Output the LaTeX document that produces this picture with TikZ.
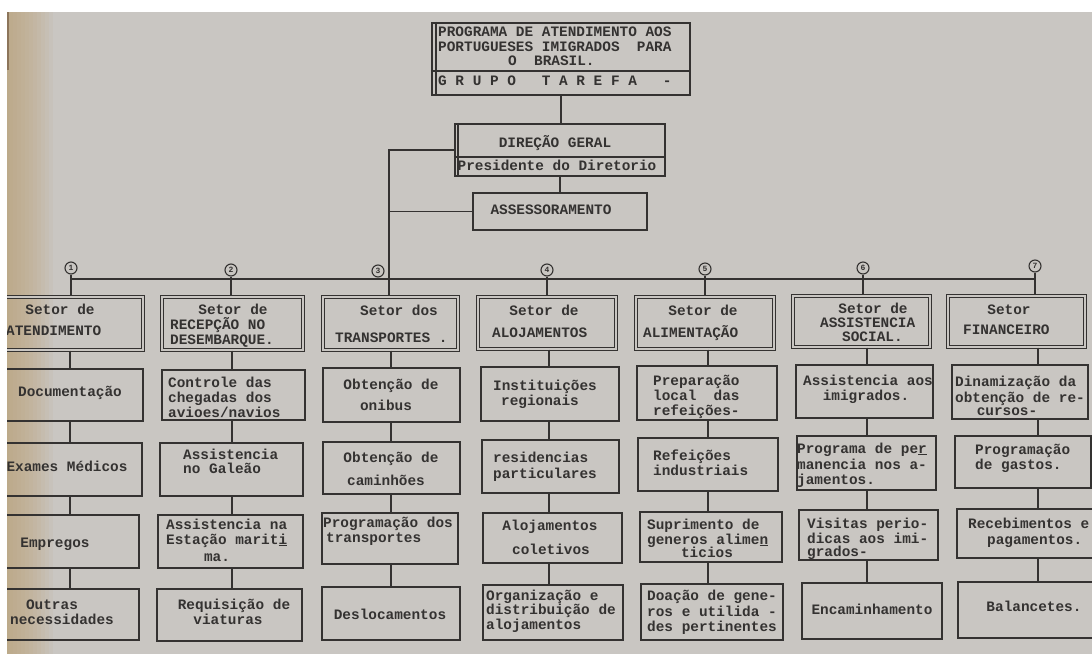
\documentclass[tikz,border=0pt]{standalone}
\usepackage{fontspec}
\setmonofont{Liberation Mono}
\usetikzlibrary{fit}
\definecolor{paper}{RGB}{201,198,194}
\definecolor{ink}{RGB}{52,50,49}
\definecolor{stain}{RGB}{188,162,118}
\definecolor{edge}{RGB}{120,95,70}
\begin{document}
\begin{tikzpicture}[x=1pt,y=-1pt,
  every node/.style={font=\ttfamily\bfseries\fontsize{14.4}{15}\selectfont, text=ink, inner sep=0pt},
  bx/.style={draw=ink, line width=2.2pt, inner sep=0pt},
  hb/.style={draw=ink, double=paper, double distance=2.2pt, line width=1.1pt, inner sep=0pt},
  tl/.style={anchor=mid west},
  tc/.style={anchor=mid},
  conn/.style={draw=ink, line width=1.9pt},
  num/.style={circle, draw=ink, line width=1.1pt, minimum size=12pt, inner sep=0pt, font=\ttfamily\bfseries\fontsize{8}{8}\selectfont}
]
\useasboundingbox (0,0) rectangle (1092,654);
\fill[white] (0,0) rectangle (1092,654);
\fill[paper] (7,12) rectangle (1092,654);
\foreach \i in {0,...,11}{
  \fill[stain, opacity=0.09] (7,12) rectangle ({9+4*\i},654);
}
\fill[edge, opacity=0.7] (7,12) rectangle (9,70);

\begin{scope}
\clip (7,12) rectangle (1092,654);

% ---------- top ----------
\node[bx, fit={(432,23) (690,95)}] (top) {};
\coordinate (tdiv) at (0,71);
\draw[ink, line width=1.4pt] ([xshift=5pt]top.north west) -- ([xshift=5pt]top.south west);
\draw[ink, line width=1.8pt] (top.west |- tdiv) -- (top.east |- tdiv);
\node[tl] (t1) at (438,34) {PROGRAMA DE ATENDIMENTO AOS};
\node[tl] (t2) at (438,49) {PORTUGUESES IMIGRADOS~~PARA};
\node[tl] (t3) at (508,63) {O~~BRASIL.};
\node[tl] (t4) at (438,83) {G~R~U~P~O~~~T~A~R~E~F~A~~~-};

\node[bx, fit={(455,124) (665,176)}] (dir) {};
\coordinate (ddiv) at (0,157);
\draw[ink, line width=1.4pt] ([xshift=4pt]dir.north west) -- ([xshift=4pt]dir.south west);
\draw[ink, line width=1.8pt] (dir.west |- ddiv) -- (dir.east |- ddiv);
\node[tc] (d1) at (555,145) {DIREÇÃO GERAL};
\node[tc] (d2) at (557,168) {Presidente do Diretorio};

\node[bx, fit={(473,193) (647,230)}] (ass) {};
\node[tc] (a1) at (551,212) {ASSESSORAMENTO};

\draw[conn] (top.south) -- (top.south |- dir.north);
\draw[conn] (dir.south) -- (dir.south |- ass.north);

% ---------- headers ----------
\node[hb, fit={(-5,297) (143,350)}] (h1) {};
\node[hb, fit={(162,297) (303,350)}] (h2) {};
\node[hb, fit={(323,297) (458,350)}] (h3) {};
\node[hb, fit={(478,297) (616,349)}] (h4) {};
\node[hb, fit={(636,297) (774,349)}] (h5) {};
\node[hb, fit={(793,296) (930,347)}] (h6) {};
\node[hb, fit={(948,296) (1085,347)}] (h7) {};

\node[tc] (h1a) at (60,312) {Setor de};
\node[tl] (h1b) at (6,333) {ATENDIMENTO};
\node[tc] (h2a) at (233,312) {Setor de};
\node[tl] (h2b) at (170,327) {RECEPÇÃO NO};
\node[tl] (h2c) at (170,342) {DESEMBARQUE.};
\node[tc] (h3a) at (399,313) {Setor dos};
\node[tl] (h3b) at (335,340) {TRANSPORTES .};
\node[tc] (h4a) at (544,313) {Setor de};
\node[tl] (h4b) at (492,335) {ALOJAMENTOS};
\node[tc] (h5a) at (703,313) {Setor de};
\node[tl] (h5b) at (643,335) {ALIMENTAÇÃO};
\node[tc] (h6a) at (873,311) {Setor de};
\node[tl] (h6b) at (820,325) {ASSISTENCIA};
\node[tl] (h6c) at (842,339) {SOCIAL.};
\node[tc] (h7a) at (1009,312) {Setor};
\node[tl] (h7b) at (963,332) {FINANCEIRO};

% ---------- numbers and bus ----------
\node[num] (n1) at (71,268) {1};
\node[num] (n2) at (231,270) {2};
\node[num] (n3) at (378,271) {3};
\node[num] (n4) at (547,270) {4};
\node[num] (n5) at (705,269) {5};
\node[num] (n6) at (863,268) {6};
\node[num] (n7) at (1035,266) {7};
\coordinate (busy) at (0,279);
\coordinate (tr) at (389,279);
\draw[conn] (n1 |- busy) -- (n7 |- busy);
\foreach \c in {1,2,4,5,6,7}{
  \draw[conn] (n\c) -- (n\c |- h\c.north);
}
\draw[conn] (dir.west) -| (tr) -- (tr |- h3.north);
\draw[conn] (ass.west) -- (ass.west -| tr);

% ---------- column boxes ----------
\node[bx, fit={(-5,369) (143,421)}] (b1-1) {};
\node[bx, fit={(-5,443) (142,496)}] (b1-2) {};
\node[bx, fit={(-5,515) (139,568)}] (b1-3) {};
\node[bx, fit={(-5,589) (139,640)}] (b1-4) {};
\node[bx, fit={(162,370) (305,420)}] (b2-1) {};
\node[bx, fit={(160,443) (303,496)}] (b2-2) {};
\node[bx, fit={(158,515) (303,568)}] (b2-3) {};
\node[bx, fit={(157,589) (302,641)}] (b2-4) {};
\node[bx, fit={(323,368) (460,422)}] (b3-1) {};
\node[bx, fit={(323,442) (460,494)}] (b3-2) {};
\node[bx, fit={(322,513) (458,564)}] (b3-3) {};
\node[bx, fit={(322,587) (460,640)}] (b3-4) {};
\node[bx, fit={(481,367) (619,421)}] (b4-1) {};
\node[bx, fit={(482,440) (619,493)}] (b4-2) {};
\node[bx, fit={(483,513) (622,563)}] (b4-3) {};
\node[bx, fit={(483,585) (623,640)}] (b4-4) {};
\node[bx, fit={(637,366) (777,420)}] (b5-1) {};
\node[bx, fit={(638,438) (778,491)}] (b5-2) {};
\node[bx, fit={(640,512) (782,562)}] (b5-3) {};
\node[bx, fit={(641,584) (783,640)}] (b5-4) {};
\node[bx, fit={(796,365) (933,418)}] (b6-1) {};
\node[bx, fit={(797,436) (936,490)}] (b6-2) {};
\node[bx, fit={(799,510) (938,560)}] (b6-3) {};
\node[bx, fit={(802,583) (942,639)}] (b6-4) {};
\node[bx, fit={(952,365) (1088,419)}] (b7-1) {};
\node[bx, fit={(955,436) (1091,488)}] (b7-2) {};
\node[bx, fit={(957,509) (1094,558)}] (b7-3) {};
\node[bx, fit={(958,582) (1096,638)}] (b7-4) {};

\coordinate (k1) at (70,0);
\coordinate (k2) at (232,0);
\coordinate (k3) at (391,0);
\coordinate (k4) at (549,0);
\coordinate (k5) at (708,0);
\coordinate (k6) at (867,0);
\coordinate (k7) at (1038,0);
\foreach \c in {1,...,7}{
  \draw[conn] (h\c.south -| k\c) -- (b\c-1.north -| k\c);
  \draw[conn] (b\c-1.south -| k\c) -- (b\c-2.north -| k\c);
  \draw[conn] (b\c-2.south -| k\c) -- (b\c-3.north -| k\c);
  \draw[conn] (b\c-3.south -| k\c) -- (b\c-4.north -| k\c);
}

% ---------- texts col 1 ----------
\node[tc] (x11) at (70,394) {Documentação};
\node[tc] (x12) at (67,469) {Exames Médicos};
\node[tc] (x13) at (55,545) {Empregos};
\node[tc] (x14a) at (52,607) {Outras};
\node[tc] (x14b) at (62,622) {necessidades};
% col 2
\node[tl] (x21a) at (168,385) {Controle das};
\node[tl] (x21b) at (168,400) {chegadas dos};
\node[tl] (x21c) at (168,415) {avioes/navios};
\node[tl] (x22a) at (183,457) {Assistencia};
\node[tl] (x22b) at (183,471) {no Galeão};
\node[tl] (x23a) at (166,527) {Assistencia na};
\node[tl] (x23b) at (166,542) {Estação marit\underline{i}};
\node[tc] (x23c) at (217,559) {ma.};
\node[tc] (x24a) at (234,607) {Requisição de};
\node[tc] (x24b) at (228,622) {viaturas};
% col 3
\node[tc] (x31a) at (391,387) {Obtenção de};
\node[tc] (x31b) at (386,408) {onibus};
\node[tc] (x32a) at (391,460) {Obtenção de};
\node[tc] (x32b) at (386,483) {caminhões};
\node[tl] (x33a) at (323,525) {Programação dos};
\node[tl] (x33b) at (326,540) {transportes};
\node[tc] (x34) at (390,617) {Deslocamentos};
% col 4
\node[tc] (x41a) at (545,388) {Instituições};
\node[tc] (x41b) at (540,403) {regionais};
\node[tl] (x42a) at (493,460) {residencias};
\node[tl] (x42b) at (493,476) {particulares};
\node[tc] (x43a) at (550,528) {Alojamentos};
\node[tc] (x43b) at (551,552) {coletivos};
\node[tl] (x44a) at (486,598) {Organização e};
\node[tl] (x44b) at (486,612) {distribuição de};
\node[tl] (x44c) at (486,627) {alojamentos};
% col 5
\node[tl] (x51a) at (653,383) {Preparação};
\node[tl] (x51b) at (653,398) {local~~das};
\node[tl] (x51c) at (653,413) {refeições-};
\node[tl] (x52a) at (653,458) {Refeições};
\node[tl] (x52b) at (653,473) {industriais};
\node[tl] (x53a) at (647,527) {Suprimento de};
\node[tl] (x53b) at (647,542) {generos alime\underline{n}};
\node[tc] (x53c) at (707,555) {ticios};
\node[tl] (x54a) at (647,598) {Doação de gene-};
\node[tl] (x54b) at (647,614) {ros e utilida -};
\node[tl] (x54c) at (647,629) {des pertinentes};
% col 6
\node[tl] (x61a) at (803,383) {Assistencia aos};
\node[tc] (x61b) at (866,398) {imigrados.};
\node[tl] (x62a) at (797,451) {Programa de pe\underline{r}};
\node[tl] (x62b) at (797,467) {manencia nos a-};
\node[tl] (x62c) at (797,482) {jamentos.};
\node[tl] (x63a) at (807,526) {Visitas perio-};
\node[tl] (x63b) at (807,541) {dicas aos imi-};
\node[tl] (x63c) at (807,554) {grados-};
\node[tc] (x64) at (872,612) {Encaminhamento};
% col 7
\node[tl] (x71a) at (955,384) {Dinamização da};
\node[tl] (x71b) at (955,400) {obtenção de re-};
\node[tc] (x71c) at (1007,413) {cursos-};
\node[tl] (x72a) at (975,452) {Programação};
\node[tl] (x72b) at (975,467) {de gastos.};
\node[tl] (x73a) at (968,526) {Recebimentos e};
\node[tl] (x73b) at (987,542) {pagamentos.};
\node[tc] (x74) at (1034,609) {Balancetes.};
\end{scope}
\end{tikzpicture}
\end{document}
